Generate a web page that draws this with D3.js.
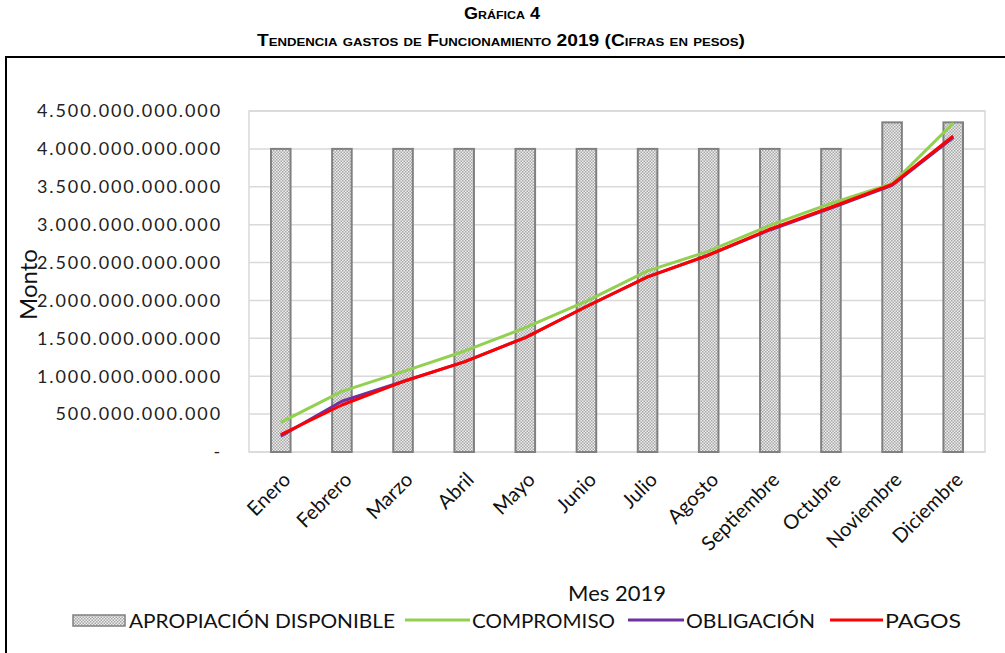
<!DOCTYPE html>
<html>
<head>
<meta charset="utf-8">
<script src="https://cdn.jsdelivr.net/npm/d3@7"></script>
<style>
  body { margin: 0; background: #fff; }
  svg { display: block; }
</style>
</head>
<body>
<svg id="chart" width="1005" height="653"></svg>
<script>
const months = ["Enero", "Febrero", "Marzo", "Abril", "Mayo", "Junio", "Julio", "Agosto", "Septiembre", "Octubre", "Noviembre", "Diciembre"];
// values in pesos
const apropiacion = [4.0e12, 4.0e12, 4.0e12, 4.0e12, 4.0e12, 4.0e12, 4.0e12, 4.0e12, 4.0e12, 4.0e12, 4.35e12, 4.35e12];
const compromiso = [0.39e12, 0.80e12, 1.06e12, 1.33e12, 1.64e12, 1.99e12, 2.39e12, 2.65e12, 2.99e12, 3.28e12, 3.54e12, 4.34e12];
const obligacion = [0.21e12, 0.67e12, 0.93e12, 1.19e12, 1.51e12, 1.92e12, 2.31e12, 2.60e12, 2.93e12, 3.22e12, 3.52e12, 4.15e12];
const pagos = [0.23e12, 0.62e12, 0.93e12, 1.19e12, 1.51e12, 1.92e12, 2.31e12, 2.60e12, 2.94e12, 3.23e12, 3.53e12, 4.17e12];
const yTicks = [0, 0.5e12, 1e12, 1.5e12, 2e12, 2.5e12, 3e12, 3.5e12, 4e12, 4.5e12];

const svg = d3.select("#chart");
const margin = {left: 249, right: 20, top: 111, bottom: 201};
const W = 1005, H = 653;

// outer frame (runs off the picture on right and bottom)
svg.append("rect").attr("x", 6).attr("y", 57).attr("width", 1010).attr("height", 620)
  .attr("fill", "none").attr("stroke", "#000").attr("stroke-width", 2);

// titles
svg.append("text").attr("x", 502).attr("y", 19).attr("text-anchor", "middle")
  .style("font", "bold 16px 'Liberation Sans', Arial").style("font-variant", "small-caps")
  .attr("textLength", 76).attr("lengthAdjust", "spacingAndGlyphs")
  .text("Gráfica 4");
svg.append("text").attr("x", 501).attr("y", 46).attr("text-anchor", "middle")
  .style("font", "bold 16px 'Liberation Sans', Arial").style("font-variant", "small-caps")
  .attr("textLength", 488).attr("lengthAdjust", "spacingAndGlyphs")
  .text("Tendencia gastos de Funcionamiento 2019 (Cifras en pesos)");

const defs = svg.append("defs");
const pat = defs.append("pattern").attr("id", "dots").attr("patternUnits", "userSpaceOnUse")
  .attr("width", 3).attr("height", 3);
pat.append("rect").attr("width", 3).attr("height", 3).attr("fill", "#eeeeee");
pat.append("rect").attr("width", 1.5).attr("height", 1.5).attr("fill", "#a6a6a6");
pat.append("rect").attr("x", 1.5).attr("y", 1.5).attr("width", 1.5).attr("height", 1.5).attr("fill", "#a6a6a6");

const x = d3.scaleBand().domain(months).range([margin.left, W - margin.right]).paddingInner(0.68).paddingOuter(0.36);
const y = d3.scaleLinear().domain([0, 4.5e12]).range([H - margin.bottom, margin.top]);

// gridlines
svg.append("g").selectAll("line").data(yTicks).join("line")
  .attr("x1", margin.left).attr("x2", W - margin.right)
  .attr("y1", d => y(d)).attr("y2", d => y(d))
  .attr("stroke", "#d9d9d9").attr("stroke-width", 1.5);
svg.append("rect").attr("x", margin.left).attr("y", margin.top)
  .attr("width", W - margin.right - margin.left).attr("height", H - margin.bottom - margin.top)
  .attr("fill", "none").attr("stroke", "#d9d9d9").attr("stroke-width", 1.5);

// y tick labels
const fmt = d => d === 0 ? "-" : d3.format(",.0f")(d).replace(/,/g, ".");
svg.append("g").selectAll("text").data(yTicks).join("text")
  .attr("x", 222).attr("y", d => y(d)).attr("dy", "0.35em")
  .attr("text-anchor", "end")
  .style("font", "18px Lato, 'Open Sans', sans-serif").style("letter-spacing", "1.9px")
  .attr("fill", "#222")
  .text(fmt);

// y axis title
svg.append("text").attr("transform", `translate(37,${(margin.top + H - margin.bottom) / 2 + 3}) rotate(-90)`)
  .attr("text-anchor", "middle")
  .style("font", "24px Lato, sans-serif").attr("fill", "#111")
  .text("Monto");

// bars
svg.append("g").selectAll("rect").data(apropiacion).join("rect")
  .attr("x", (d, i) => x(months[i])).attr("width", x.bandwidth())
  .attr("y", d => y(d)).attr("height", d => y(0) - y(d))
  .attr("fill", "url(#dots)").attr("stroke", "#808080").attr("stroke-width", 2);

// lines
const cx = m => x(m) + x.bandwidth() / 2;
const line = d3.line().x((d, i) => cx(months[i])).y(d => y(d));
[[compromiso, "#92d050"], [obligacion, "#7030a0"], [pagos, "#ff0000"]].forEach(([s, c]) => {
  svg.append("path").datum(s).attr("d", line).attr("fill", "none")
    .attr("stroke", c).attr("stroke-width", 3).attr("stroke-linejoin", "round");
});

// x labels
svg.append("g").selectAll("text").data(months).join("text")
  .attr("transform", d => `translate(${cx(d) + 11},${H - margin.bottom + 29}) rotate(-45)`)
  .attr("text-anchor", "end")
  .style("font", "20px Lato, sans-serif").attr("fill", "#111")
  .text(d => d);

// x axis title
svg.append("text").attr("x", 617).attr("y", 601).attr("text-anchor", "middle")
  .style("font", "22px Lato, sans-serif").attr("fill", "#111")
  .text("Mes 2019");

// legend
const lg = svg.append("g").style("font", "20px Lato, sans-serif").attr("fill", "#111");
lg.append("rect").attr("x", 73).attr("y", 615).attr("width", 52).attr("height", 11)
  .attr("fill", "url(#dots)").attr("stroke", "#808080").attr("stroke-width", 1.5);
const legText = (xx, w, t) => lg.append("text").attr("x", xx).attr("y", 628)
  .attr("textLength", w).attr("lengthAdjust", "spacingAndGlyphs").text(t);
legText(129, 266, "APROPIACIÓN DISPONIBLE");
lg.append("line").attr("x1", 405).attr("x2", 470).attr("y1", 620).attr("y2", 620).attr("stroke", "#92d050").attr("stroke-width", 3);
legText(472, 143, "COMPROMISO");
lg.append("line").attr("x1", 628).attr("x2", 684).attr("y1", 620).attr("y2", 620).attr("stroke", "#7030a0").attr("stroke-width", 3);
legText(686, 129, "OBLIGACIÓN");
lg.append("line").attr("x1", 830).attr("x2", 883).attr("y1", 620).attr("y2", 620).attr("stroke", "#ff0000").attr("stroke-width", 3);
legText(885, 76, "PAGOS");
</script>
</body>
</html>
